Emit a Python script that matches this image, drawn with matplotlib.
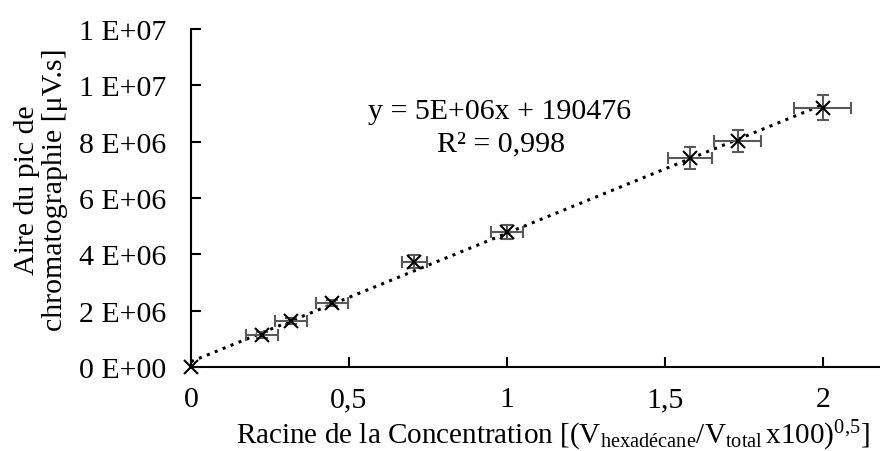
import numpy as np
import matplotlib
matplotlib.use("Agg")
import matplotlib.pyplot as plt
from matplotlib.ticker import FixedLocator, FixedFormatter

plt.rcParams['font.family'] = ['Liberation Serif', 'DejaVu Serif']
plt.rcParams['mathtext.fontset'] = 'custom'
plt.rcParams['mathtext.rm'] = 'Liberation Serif'
plt.rcParams['mathtext.it'] = 'Liberation Serif:italic'

# data
x_vals = [0.0, 0.224, 0.316, 0.447, 0.707, 1.0, 1.58, 1.73, 2.0]
y_vals = [0.0, 1.14e6, 1.63e6, 2.27e6, 3.73e6, 4.8e6, 7.42e6, 8.03e6, 9.2e6]
x_err = [0.0, 0.05, 0.05, 0.05, 0.04, 0.05, 0.07, 0.075, 0.09]
y_err = [0.0, 0.1e6, 0.1e6, 0.12e6, 0.23e6, 0.25e6, 0.39e6, 0.39e6, 0.44e6]
x_ticks = [0, 0.5, 1, 1.5, 2]
x_tick_labels = ['0', '0,5', '1', '1,5', '2']
y_ticks = [0, 2e6, 4e6, 6e6, 8e6, 1e7, 1.2e7]
y_tick_labels = ['0 E+00', '2 E+06', '4 E+06', '6 E+06', '8 E+06', '1 E+07', '1 E+07']
eq_text = 'y = 5E+06x + 190476'
r2_text = 'R² = 0,998'

W, H = 880, 452
FS = 21.5
fig = plt.figure(figsize=(W / 100, H / 100), dpi=100)
x0, x1, y0, y1 = 191, 886, 30, 368
ax = fig.add_axes([x0 / W, 1 - y1 / H, (x1 - x0) / W, (y1 - y0) / H])

xa = np.array(x_vals)
ya = np.array(y_vals)
slope, icpt = np.polyfit(xa, ya, 1)
xl = np.array([0.0, 2.0])
ax.plot(xl, slope * xl + icpt, linestyle=(0, (1, 1.8)), color='black', lw=2.2, zorder=2)

ax.errorbar(xa[1:], ya[1:], xerr=np.array(x_err)[1:], yerr=np.array(y_err)[1:],
            fmt='none', ecolor='#595959', elinewidth=1.5, capsize=4, capthick=1.5, zorder=3)
ax.plot(xa, ya, linestyle='none', marker='x', markersize=10, mew=1.5, color='black',
        zorder=4, clip_on=False)

ax.set_xlim(0, 2.2)
ax.set_ylim(0, 1.2e7)
ax.xaxis.set_major_locator(FixedLocator(x_ticks))
ax.xaxis.set_major_formatter(FixedFormatter(x_tick_labels))
ax.yaxis.set_major_locator(FixedLocator(y_ticks))
ax.yaxis.set_major_formatter(FixedFormatter(y_tick_labels))

for s in ['top', 'right']:
    ax.spines[s].set_visible(False)
for s in ['left', 'bottom']:
    ax.spines[s].set_linewidth(1.5)
    ax.spines[s].set_color('black')

ax.tick_params(axis='x', direction='in', length=7, width=1.5, pad=14, labelsize=FS)
ax.tick_params(axis='y', direction='in', length=7, width=1.5, pad=18, labelsize=FS)
ax.patch.set_visible(False)

ax.text((500 - x0) / (x1 - x0), (y1 - 112) / (y1 - y0), eq_text, transform=ax.transAxes,
        ha='center', va='center', fontsize=FS)
ax.text((501 - x0) / (x1 - x0), (y1 - 144) / (y1 - y0), r2_text, transform=ax.transAxes,
        ha='center', va='center', fontsize=FS)

fig.text(553 / W, 1 - 436 / H,
         r'Racine de la Concentration [(V$_{\mathrm{hexadécane}}$/V$_{\mathrm{total}}\,$x100)$^{\mathrm{0{,}5}}$]',
         ha='center', va='center', fontsize=21)
fig.text(41 / W, 1 - 190 / H, 'Aire du pic de\nchromatographie [μV.s]',
         ha='center', va='center', rotation=90, fontsize=FS, linespacing=1.05)

fig.savefig('out.png', dpi=100)
